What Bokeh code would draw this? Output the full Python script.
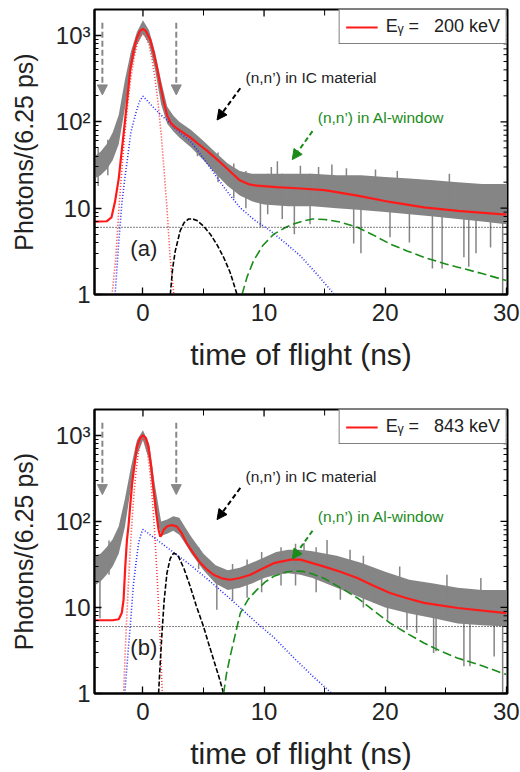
import math
from bokeh.plotting import figure
from bokeh.layouts import column
from bokeh.models import (FixedTicker, Range1d, Arrow, NormalHead, Label, Span)
from bokeh.embed import file_html
from bokeh.resources import INLINE

# ---------------- data: panel (a)  E_gamma = 200 keV ----------------
a_env_x = [-4, -3.5, -3, -2.5, -2, -1.5, -1, -0.5, 0, 0.5, 1, 1.5, 2, 2.5, 3, 4, 5, 6, 7, 8, 9, 10, 12, 14, 16, 18, 20, 22, 24, 26, 28, 30]
a_env_lo = [22, 24, 28, 36, 55, 140, 380, 780, 1050, 800, 400, 160, 95, 78, 66, 50, 36, 25, 18, 14, 12, 11, 10.5, 10.5, 10, 9.5, 9, 8.5, 8, 7.5, 7, 6.5]
a_env_hi = [40, 45, 55, 75, 120, 300, 650, 1100, 1500, 1150, 650, 300, 150, 118, 100, 80, 60, 44, 33, 27, 25, 25, 25, 25, 24, 24, 23, 22, 21, 20, 19, 19]
a_spike_x = [-3.7, -2.9, 4.5, 6.2, 7.5, 8.5, 9.7, 10.3, 10.6, 11.1, 11.5, 12.5, 13.0, 13.8, 14.5, 15.6, 16.8, 17.4, 18.0, 19.2, 20.4, 21.0, 22.0, 23.9, 24.7, 25.3, 26.5, 26.9, 27.5, 28.7, 29.7]
a_spike_lo = [18, 24, 40, 20, 13, 10, 6.0, 8.5, 12, 12, 7.5, 5.0, 12, 6.5, 12, 12, 12, 3.9, 3.0, 11, 4.6, 11, 4.0, 2.0, 2.0, 10, 2.7, 2.1, 3.0, 3.5, 1.0]
a_spike_hi = [50, 62, 60, 44, 33, 27, 15, 25, 30, 35, 25, 12, 31, 25, 30, 32, 29, 12, 12, 28, 11, 27, 10, 10, 10, 25, 9, 9, 9, 9, 9]

a_fit_x = [-4, -3, -2.6, -2.3, -2.0, -1.8, -1.6, -1.3, -1.05, -0.75, -0.5, -0.25, 0, 0.25, 0.6, 0.9, 1.16, 1.45, 1.7, 2.0, 2.3, 2.6, 3.2, 3.9, 4.6, 5.3, 6.0, 6.7, 7.4, 8.0, 8.7, 9.4, 11, 13, 15, 17.7, 20.4, 23.2, 26, 30]
a_fit_y = [7.0, 7.05, 7.8, 12, 22, 40, 72, 180, 400, 700, 940, 1120, 1190, 1120, 900, 620, 424, 260, 175, 118, 97, 88, 77, 66, 55, 46, 38, 31, 25, 21, 19, 18.2, 17.5, 16.9, 16.2, 14, 11.8, 10.2, 9.3, 8.4]
a_gaus_x = [-2.55, -2.25, -2.0, -1.75, -1.5, -1.25, -1.0, -0.75, -0.5, -0.25, 0, 0.25, 0.5, 0.75, 1.0, 1.25, 1.5, 1.75, 2.0, 2.25, 2.55]
a_gaus_y = [1, 2.6, 9.2, 27, 73, 164, 318, 534, 773, 964, 1040, 964, 773, 534, 318, 164, 73, 27, 9.2, 2.6, 1]
a_blue_x = [-2.3, -2.0, -1.75, -1.5, -1.25, -1.0, -0.6, -0.3, 0, 0.45, 0.88, 1.43, 2.0, 2.6, 3.2, 3.9, 4.6, 5.3, 6.0, 6.7, 7.4, 8.0, 9.2, 10.5, 11.8, 13, 14.4, 15.8]
a_blue_y = [1, 4, 11, 22, 40, 75, 125, 170, 198, 170, 146, 122, 104, 86, 72, 60, 45, 33, 24, 17.4, 13, 10.2, 7.3, 5.5, 3.9, 2.8, 1.7, 1]
a_ic_x = [2.26, 2.45, 2.67, 3.08, 3.4, 3.77, 4.1, 4.46, 5.0, 5.56, 6.1, 6.66, 7.2, 7.77]
a_ic_y = [1, 2, 3.2, 5.5, 6.8, 7.5, 7.5, 7.2, 6.2, 5.0, 3.8, 2.7, 1.8, 1]
a_al_x = [8.18, 8.6, 9.14, 9.9, 10.8, 11.8, 12.5, 13.2, 14, 15, 16.3, 17.7, 19, 20.4, 21.8, 23.2, 25, 26, 28, 30]
a_al_y = [1, 1.6, 2.47, 3.7, 5.0, 6.0, 6.6, 7.1, 7.5, 7.4, 6.9, 6.0, 4.9, 3.85, 3.2, 2.7, 2.25, 2.07, 1.75, 1.45]
a_bg = 6.0

# ---------------- data: panel (b)  E_gamma = 843 keV ----------------
b_env_x = [-4, -3.5, -3, -2.5, -2, -1.5, -1, -0.5, 0, 0.5, 1, 1.5, 2, 2.5, 3, 3.5, 4, 5, 6, 7, 8, 9, 10, 11, 12, 13, 14, 16, 18, 20, 22, 24, 26, 28, 30]
b_env_lo = [18, 20, 24, 30, 42, 85, 240, 580, 880, 520, 130, 68, 72, 78, 70, 55, 42, 27, 19, 16, 17, 19, 22, 24, 25, 24, 22, 17, 13, 10, 8.5, 7.5, 6.5, 6.2, 6]
b_env_hi = [40, 42, 50, 62, 88, 180, 420, 880, 1150, 800, 260, 100, 105, 115, 110, 85, 66, 42, 31, 27, 29, 33, 38, 44, 47, 47, 45, 40, 33, 26, 21, 19, 17, 16, 16]
b_spike_x = [-3.55, -2.8, 4.6, 6.1, 7.4, 8.6, 9.8, 11.4, 12.6, 13.3, 14.3, 15.2, 16.3, 17.1, 18.2, 19.06, 20.2, 21.2, 21.8, 22.6, 24.0, 24.2, 25.1, 26.5, 27.0, 27.9, 29.0, 29.7]
b_spike_lo = [7.5, 24, 28, 9.4, 12, 13, 15, 18, 18, 25, 15, 25, 12.3, 20, 10, 11.3, 7.2, 10, 5.5, 5.05, 2.96, 3.1, 8, 2.07, 2.07, 6.5, 2.7, 1.0]
b_spike_hi = [25, 60, 50, 20, 32, 36, 44, 50, 55, 56, 50, 61, 30, 47, 40, 25, 20, 30, 18, 16, 14, 14, 24, 12, 12, 22, 12, 12]

b_fit_x = [-4, -2.5, -2.0, -1.75, -1.6, -1.46, -1.32, -1.19, -0.9, -0.7, -0.5, -0.25, 0, 0.25, 0.46, 0.7, 0.88, 1.1, 1.29, 1.43, 1.55, 1.7, 2.0, 2.4, 2.8, 3.2, 3.6, 4.2, 4.73, 5.3, 5.83, 6.5, 7.2, 8.0, 8.87, 9.8, 10.8, 12.2, 13, 14.9, 16.3, 17.7, 19, 20.4, 21.8, 23.2, 26, 30]
b_fit_y = [7.1, 7.1, 7.3, 8.6, 12.3, 30, 61, 90, 270, 450, 740, 930, 1005, 930, 740, 420, 232, 125, 80, 66.5, 70, 80, 88, 91, 87, 73, 56, 42, 33, 27.5, 24, 21.8, 21, 22, 24, 28, 32.7, 36, 36, 30, 26, 22, 18, 14.7, 12.8, 11.3, 9.85, 8.6]
b_gaus_x = [-1.6, -1.4, -1.2, -1.0, -0.8, -0.6, -0.4, -0.2, 0, 0.2, 0.4, 0.6, 0.8, 1.0, 1.2, 1.4, 1.6]
b_gaus_y = [1, 5, 19, 62, 165, 352, 604, 835, 930, 835, 604, 352, 165, 62, 19, 5, 1]
b_blue_x = [-1.5, -1.25, -1.05, -0.78, -0.55, -0.36, -0.15, 0, 1.16, 2.5, 3.9, 5.3, 6.66, 8.0, 9.4, 10.8, 12.45, 14, 15.6]
b_blue_y = [1, 2.8, 6, 19, 35, 56, 72, 81, 61, 44, 31.3, 21.5, 14.7, 10, 6.6, 4.5, 2.6, 1.6, 1]
b_ic_x = [1.29, 1.43, 1.57, 1.75, 1.98, 2.25, 2.53, 2.75, 2.94, 3.4, 3.9, 4.4, 5.0, 5.4, 5.83, 6.25, 6.66]
b_ic_y = [1, 2.3, 5, 12, 25, 37, 42.8, 41.5, 39, 28, 17.6, 10.5, 6.0, 3.9, 2.48, 1.6, 1]
b_al_x = [6.66, 6.9, 7.2, 7.6, 8.04, 8.7, 9.4, 10.1, 10.8, 11.8, 12.5, 13.2, 14, 14.9, 16.3, 17.7, 19, 20.4, 21.8, 23.2, 24.6, 25.95, 28, 30]
b_al_y = [1, 1.7, 2.7, 4.7, 8.6, 12.5, 16, 19.8, 23, 25.8, 26.5, 26.3, 24.5, 22, 17, 12.9, 9.3, 6.6, 5.0, 3.87, 3.1, 2.59, 2.1, 1.66]
b_bg = 6.0

# ---------------- axes / text ----------------
X_MIN, X_MAX = -4, 30.1
Y_MIN, Y_MAX = 1, 2000
x_ticks = [0, 10, 20, 30]
x_minor = [-5, 5, 15, 25]
y_ticks = [1, 10, 100, 1000]
y_tick_labels = {1: "1", 10: "10", 100: "10\u00b2", 1000: "10\u00b3"}
y_minor = [m * d for d in (1, 10, 100, 1000) for m in range(2, 10)]
energies = ["200 keV", "843 keV"]
panel_tags = ["(a)", "(b)"]

FONT = "Liberation Sans"
TXT = "#222222"
GRAY = "#858585"
RED = "#ff1a1a"
GREEN = "#1a8c1a"


def make_panel(env_x, env_lo, env_hi, sx, slo, shi, fx, fy, gx, gy, bx, by,
               ix, iy, alx, aly, bg, energy, tag, height, top, bottom):
    p = figure(width=520, height=height, x_range=Range1d(X_MIN, X_MAX),
               y_range=Range1d(Y_MIN, Y_MAX), y_axis_type="log",
               output_backend="svg", toolbar_location=None,
               min_border_left=94, min_border_right=13,
               min_border_top=top, min_border_bottom=bottom)
    p.grid.visible = False
    p.outline_line_color = "black"
    p.outline_line_width = 2

    # measured spectrum
    p.varea(x=env_x, y1=env_lo, y2=env_hi, fill_color=GRAY)
    p.segment(x0=sx, y0=slo, x1=sx, y1=shi, line_color=GRAY, line_width=1.5)

    # constant background
    p.add_layout(Span(location=bg, dimension="width", line_color="black",
                      line_width=1, line_dash="1 2"))
    # fit components
    p.line(gx, gy, line_color="#ff3a3a", line_width=1.6, line_dash="1 2")
    p.line(bx, by, line_color="#2a2aff", line_width=1.6, line_dash="1 2")
    p.line(ix, iy, line_color="black", line_width=1.6, line_dash="5 2")
    p.line(alx, aly, line_color=GREEN, line_width=1.6, line_dash="9 4")
    p.line(fx, fy, line_color=RED, line_width=2.2,
           legend_label="E\u1d67 =\u00a0\u00a0\u00a0" + energy)

    # mirrored ticks on top and right edges (clipped to the frame)
    p.scatter(x=x_ticks, y=[Y_MAX] * len(x_ticks), marker="dash", angle=math.pi / 2,
              size=14, line_color="black", line_width=1.3)
    p.scatter(x=x_minor, y=[Y_MAX] * len(x_minor), marker="dash", angle=math.pi / 2,
              size=12, line_color="black", line_width=1)
    p.scatter(x=[X_MAX] * len(y_ticks), y=y_ticks, marker="dash",
              size=14, line_color="black", line_width=1.3)
    p.scatter(x=[X_MAX] * len(y_minor), y=y_minor, marker="dash",
              size=8, line_color="black", line_width=1)

    # axes
    xa0 = p.xaxis[0]
    xa0.ticker = FixedTicker(ticks=x_ticks, minor_ticks=x_minor)
    xa0.axis_label = "time of flight (ns)"
    ya = p.yaxis[0]
    ya.ticker = FixedTicker(ticks=y_ticks, minor_ticks=y_minor)
    ya.major_label_overrides = y_tick_labels
    ya.axis_label = "Photons/(6.25 ps)"

    for ax in (xa0, ya):
        ax.axis_line_color = "black"
        ax.axis_line_width = 2
        ax.major_tick_in = 7
        ax.major_tick_out = 0
        ax.minor_tick_in = 4
        ax.minor_tick_out = 0
        ax.major_tick_line_width = 1.3
        ax.minor_tick_line_width = 1
        ax.major_label_text_font = FONT
        ax.major_label_text_color = TXT
        ax.axis_label_text_font = FONT
        ax.axis_label_text_color = TXT
        ax.axis_label_text_font_style = "normal"
    xa0.minor_tick_in = 6
    xa0.major_label_text_font_size = "24px"
    xa0.major_label_standoff = 9
    xa0.axis_label_text_font_size = "30px"
    xa0.axis_label_standoff = 14
    ya.major_label_text_font_size = "24px"
    ya.major_label_standoff = 4
    ya.axis_label_text_font_size = "25px"
    ya.axis_label_standoff = 15

    # legend
    lg = p.legend[0]
    lg.location = "top_right"
    lg.margin = 0
    lg.padding = 6
    lg.spacing = 0
    lg.glyph_width = 32
    lg.label_standoff = 8
    lg.label_text_font = FONT
    lg.label_text_font_size = "18px"
    lg.label_text_color = TXT
    lg.border_line_color = "black"
    lg.border_line_width = 1.5
    lg.background_fill_alpha = 1

    # arrows & notes
    for xa in (-3.35, 2.75):
        p.add_layout(Arrow(end=NormalHead(size=10, fill_color="#888888", line_color="#888888"),
                           x_start=xa, y_start=1400, x_end=xa, y_end=205,
                           line_color="#888888", line_width=2, line_dash="6 3"))
    p.add_layout(Arrow(end=NormalHead(size=10, fill_color="black", line_color="black"),
                       x_start=8.04, y_start=245, x_end=6.12, y_end=105,
                       line_color="black", line_width=2, line_dash="5 3"))
    p.add_layout(Arrow(end=NormalHead(size=10, fill_color=GREEN, line_color=GREEN),
                       x_start=14.0, y_start=78, x_end=12.33, y_end=36.5,
                       line_color=GREEN, line_width=2, line_dash="5 3"))
    p.add_layout(Label(x=8.47, y=330, text="(n,n\u2019) in IC material",
                       text_font=FONT, text_font_size="15.5px", text_color=TXT,
                       text_baseline="middle"))
    p.add_layout(Label(x=14.43, y=113, text="(n,n\u2019) in Al-window",
                       text_font=FONT, text_font_size="15.5px", text_color=GREEN,
                       text_baseline="middle"))
    p.add_layout(Label(x=0.07, y=3.4, text=tag, text_font=FONT,
                       text_font_size="22px", text_color=TXT,
                       text_align="center", text_baseline="middle"))
    return p


p1 = make_panel(a_env_x, a_env_lo, a_env_hi, a_spike_x, a_spike_lo, a_spike_hi,
                a_fit_x, a_fit_y, a_gaus_x, a_gaus_y, a_blue_x, a_blue_y,
                a_ic_x, a_ic_y, a_al_x, a_al_y, a_bg, energies[0], panel_tags[0],
                400, 9, 106)
p2 = make_panel(b_env_x, b_env_lo, b_env_hi, b_spike_x, b_spike_lo, b_spike_hi,
                b_fit_x, b_fit_y, b_gaus_x, b_gaus_y, b_blue_x, b_blue_y,
                b_ic_x, b_ic_y, b_al_x, b_al_y, b_bg, energies[1], panel_tags[1],
                372, 9, 78)

p = column(p1, p2)
open("out.html", "w").write(file_html(p, INLINE))
